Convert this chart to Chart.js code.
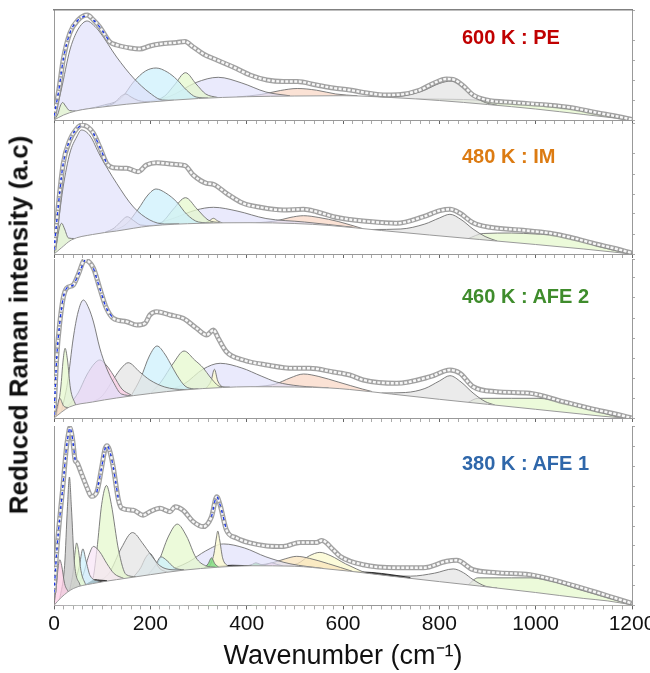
<!DOCTYPE html>
<html>
<head>
<meta charset="utf-8">
<script src="https://cdn.jsdelivr.net/npm/chart.js@4.4.1/dist/chart.umd.min.js"></script>
<style>
  body { margin: 0; background: #fff; }
  #wrap { position: relative; width: 650px; height: 673px; overflow: hidden; font-family: 'Liberation Sans', Arial, sans-serif; }
  canvas { position: absolute; left: 0; }
  .tag { position: absolute; left: 462px; font-size: 20px; font-weight: bold; line-height: 20px; white-space: nowrap; }
  #ylab { position: absolute; left: 19px; top: 325px; font-size: 26px; font-weight: bold; color: #111; white-space: nowrap;
          transform: translate(-50%, -50%) rotate(-90deg); }
</style>
</head>
<body>
<div id="wrap">
  <canvas id="c1" width="650" height="126" style="top:0px"></canvas>
  <canvas id="c2" width="650" height="140" style="top:120px"></canvas>
  <canvas id="c3" width="650" height="170" style="top:254px"></canvas>
  <canvas id="c4" width="650" height="255" style="top:418px"></canvas>
  <div id="ylab">Reduced Raman intensity (a.c)</div>
  <div class="tag" style="top:27px;color:#c00000">600 K : PE</div>
  <div class="tag" style="top:146px;color:#dc7b12">480 K : IM</div>
  <div class="tag" style="top:286px;color:#3f8c2c">460 K : AFE 2</div>
  <div class="tag" style="top:453px;color:#2f67aa">380 K : AFE 1</div>
</div>
<script>
Chart.defaults.font.family = "'Liberation Sans', Arial, sans-serif";
Chart.defaults.animation = false;

// x axis
const xMin = 0, xMax = 1200;
const xTickStep = 20, xLabelStep = 200;

// ---------- 600 K : PE ----------
const p1Spectrum = [[0,4],[10,30],[19,60],[33,87],[50,100],[69,105],[82,100],[95,93],[116,78],[130,75],[158,72],[178,71],[199,74],[220,76],[255,77.5],[272,78.5],[289,73],[310,66],[338,60],[372,53],[407,45],[442,40],[476,38.5],[505,38.5],[545,35],[580,32],[614,30],[650,27],[690,25],[720,25.5],[760,30],[787,36.5],[815,41],[829,40.5],[850,34],[870,25],[898,20],[953,17.5],[1023,15],[1071,12.5],[1127,7.3],[1170,3.5],[1200,0.5]];
const p1Base = [[0,0],[20,5],[45,9],[100,13],[200,18],[300,21.5],[400,23.3],[500,24],[600,24.3],[700,22.5],[800,19.5],[900,15.5],[1000,11],[1100,5.5],[1200,0]];
const p1PeakA = [[0,0],[8,6],[13,14],[18,17.5],[24,14],[32,9.5],[45,9]];
const p1PeakB = [[0,0],[15,30],[33,70],[47,88],[60,97],[69,99],[82,95],[95,88],[130,63],[165,42],[199,27],[225,20],[250,19.7]];
const p1PeakC = [[105,13.5],[125,17],[140,24],[149,26],[160,23],[175,19.5],[200,18]];
const p1PeakD = [[40,8.5],[100,14.5],[140,22],[165,38],[190,49],[212,52],[235,48],[255,40.5],[275,30],[295,23],[320,22]];
const p1PeakE = [[200,18.2],[230,24],[250,35],[273,47.3],[295,36],[315,26],[340,22.5]];
const p1PeakF = [[170,16.8],[240,23.5],[295,37.5],[341,42.7],[390,37],[440,28],[490,24.2]];
const p1PeakG = [[380,23],[430,25.5],[470,29.5],[505,31.5],[545,29.8],[585,26],[630,24.2]];
const p1PeakH = [[680,23],[730,24.5],[770,30],[800,36.5],[825,39],[848,33.5],[870,24.5],[895,17.5],[920,14.8]];
const p1PeakI = [[750,21],[850,20.5],[950,17.5],[1050,12.5],[1120,7.5],[1165,3.5],[1200,0]];
const p1FitRanges = [[0,69],[82,116]];

// ---------- 480 K : IM ----------
const p2Spectrum = [[0,4],[6,34],[19,90],[33,114],[45,124],[57,129],[70,127],[82,120.7],[95,107],[109,91],[123,86.3],[151,85.7],[175,82.3],[192,89],[213,91.3],[248,89.7],[272,88.3],[289,79],[317,70.7],[331,69.7],[358,60.7],[393,50.7],[428,46.7],[476,44],[518,44.7],[545,42.3],[580,37.3],[614,34.5],[642,33],[711,30.7],[767,37.3],[801,43.3],[822,44.7],[843,40.7],[870,31.3],[905,26.7],[967,24],[1030,20.7],[1071,16.7],[1127,9.7],[1160,6],[1200,1]];
const p2Base = [[0,0],[15,6],[36,14],[80,19.5],[130,23],[199,28],[303,30.7],[407,31.3],[500,30.5],[573,28.5],[680,23.5],[780,19],[884,14.5],[1000,9.5],[1100,5],[1200,0]];
const p2PeakA = [[0,0],[6,12],[11,26],[16,30.7],[22,25],[30,16],[42,15.5]];
const p2PeakB = [[0,0],[10,35],[19,67],[33,101],[47,117],[57,124],[75,118],[95,99],[130,70.7],[165,47],[199,34],[230,30],[260,30.2]];
const p2PeakC = [[105,21.5],[125,26],[140,33],[152,37.3],[165,33.5],[180,29],[205,28.3]];
const p2PeakD = [[60,17.2],[110,22],[150,30],[175,45],[195,59],[212,65],[232,61],[255,52],[275,40],[300,32],[330,31]];
const p2PeakE = [[195,27.8],[225,32],[248,45],[273,56.3],[297,45],[320,34],[345,31.2]];
const p2PeakF = [[200,28],[250,36],[295,44],[331,46.7],[380,43],[440,35.5],[520,32],[620,26.8]];
const p2PeakG = [[312,30.8],[322,33],[331,35.7],[340,33],[350,31]];
const p2PeakH = [[420,31.2],[460,33],[490,36.5],[518,38.3],[550,36.5],[590,32.5],[640,25.5]];
const p2PeakI = [[660,24.5],[720,25],[770,30],[800,36],[822,39.7],[845,34.5],[870,25],[895,17.5],[920,13]];
const p2PeakJ = [[860,15.5],[891,20.5],[950,21],[1000,20],[1040,19],[1080,15],[1120,9],[1160,4],[1200,0]];
const p2FitRanges = [[0,57],[82,110]];

// ---------- 460 K : AFE 2 ----------
const p3Spectrum = [[0,3],[6,63],[12,95],[19,119.7],[26,129.7],[40,133],[50,143],[64,158],[82,149.7],[95,129.7],[109,109.7],[123,99.7],[151,96.3],[172,93],[189,94.7],[199,103],[213,106.3],[241,103],[268,99.7],[296,89.7],[317,83],[331,88],[341,79.7],[358,66.3],[393,58],[442,53],[497,49.7],[531,49.7],[580,46],[614,43],[642,38],[711,34.7],[781,41.3],[822,48],[843,44.7],[870,31.3],[919,26.3],[988,24.7],[1057,16.3],[1127,8],[1170,3.5],[1200,0]];
const p3Base = [[0,0],[32,11],[80,16],[130,20],[200,24.5],[268,28],[350,30.5],[407,31.3],[500,31],[573,30],[614,28.5],[700,24],[800,18.7],[900,13.7],[1000,8.7],[1100,3.7],[1175,0.3],[1200,0]];
const p3PeakA = [[0,0],[5,8],[12,19.7],[20,12],[30,10.3]];
const p3PeakB = [[5,2],[14,30],[19,58],[23,69.7],[28,58],[34,30],[45,13]];
const p3PeakC = [[15,5.5],[28,35],[40,80],[50,106],[61,118],[72,110],[82,96],[95,70],[109,50],[123,36],[140,24],[165,22.3]];
const p3PeakD = [[20,7],[50,25],[68,43],[85,55],[95,58],[110,52],[123,43],[141,29],[160,23]];
const p3PeakE = [[80,16],[100,22],[125,40],[140,50],[154,55.3],[178,46],[199,38],[230,31],[270,28.5],[300,29.3]];
const p3PeakF = [[160,22],[180,40],[198,62],[214,72],[230,64],[241,55],[255,43],[272,32],[290,28.8]];
const p3PeakG = [[200,24.5],[222,36],[248,55],[270,67],[292,58],[310,50],[324,41],[345,31.5],[365,30.9]];
const p3PeakH = [[225,26],[270,34],[310,49],[345,54.7],[390,50],[430,42],[462,36],[510,32],[570,30.2]];
const p3PeakI = [[316,29.7],[326,37],[333,48.7],[340,37],[350,30.5]];
const p3PeakJ = [[420,31.3],[460,34],[490,40],[518,44],[550,41.5],[590,36],[640,29],[660,26.5]];
const p3PeakK = [[680,25],[730,25.5],[770,29.5],[800,37],[822,42.3],[845,36],[870,25],[895,16.5],[915,13]];
const p3PeakL = [[860,15.7],[880,19.7],[950,19.7],[1005,19.7],[1060,15],[1100,10],[1140,5],[1175,0.3]];
const p3FitRanges = [[0,64],[82,123]];

// ---------- 380 K : AFE 1 ----------
const p4Spectrum = [[0,13],[6,56],[19,123],[26,160],[30,173],[33,179.5],[36,175],[39,166],[44,146],[47,144.5],[57,133],[68,119.5],[78,110],[89,114.5],[99,139.5],[106,158],[110,161],[115,157],[123,139.5],[134,106],[141,98],[165,96],[185,91],[199,94.5],[220,98],[241,94.5],[251,99.5],[268,96],[289,84.5],[310,79.5],[327,89.5],[338,109.5],[345,101],[358,76],[379,68],[407,63],[442,60],[476,59.5],[511,63.5],[545,63.5],[556,65.5],[580,56],[594,49.5],[642,41],[711,38],[767,38],[815,44.5],[836,45.5],[870,36],[919,33],[988,31],[1057,23],[1127,13],[1170,6.5],[1200,2]];
const p4Base = [[0,0],[15,8],[40,17],[80,22],[130,26],[200,31],[268,35.5],[340,38.5],[407,40],[500,39.5],[573,36.5],[614,34.5],[700,29.5],[800,24],[884,19.5],[1000,13],[1100,7],[1150,4.5],[1200,0.5]];
const p4PeakA = [[0,0],[5,20],[9,40],[12,46],[16,40],[22,22],[30,13.5]];
const p4PeakB = [[12,6.5],[22,40],[28,100],[32,129.5],[36,100],[42,45],[55,19]];
const p4PeakC = [[32,14],[40,35],[44,55],[47,63],[51,55],[56,35],[66,20.5]];
const p4PeakD = [[20,10],[40,20],[52,38],[60,57],[66,46],[75,30],[95,24]];
const p4PeakE = [[60,19.5],[75,23.5],[85,26],[95,25.5],[110,25]];
const p4PeakF = [[45,17.8],[60,30],[72,50],[82,59.5],[95,54],[110,42],[125,32],[145,27.2]];
const p4PeakG = [[65,20.8],[80,26],[89,56],[99,102],[109,121],[119,102],[134,56],[150,31],[170,29]];
const p4PeakH = [[90,23],[115,33],[140,58],[163,73.5],[185,62],[199,52.5],[220,40],[245,36],[270,35.7]];
const p4PeakI = [[165,28.6],[180,38],[190,48],[199,52.5],[208,47],[218,38],[235,33.5]];
const p4PeakJ = [[195,30.7],[210,40],[222,49],[235,45],[250,38],[270,35.7]];
const p4PeakK = [[195,30.6],[215,42],[238,70],[256,82],[275,70],[295,48],[315,40],[335,38.5]];
const p4PeakL = [[230,33.5],[280,44],[315,55],[352,62],[395,58],[440,49],[490,42],[560,37.2]];
const p4PeakM = [[312,37.8],[320,42],[327,48],[334,42],[342,38.6]];
const p4PeakN = [[322,38],[332,52],[337,68],[340,75],[344,66],[350,48],[362,39]];
const p4PeakO = [[400,39.8],[412,41.5],[419,43],[428,41.5],[440,40]];
const p4PeakP = [[430,40],[442,41.5],[452,43],[462,41.5],[475,39.9]];
const p4PeakQ = [[410,40],[450,42.5],[480,47],[504,49.5],[530,47.5],[570,42],[620,34.3]];
const p4PeakR = [[470,39.7],[505,42],[530,50],[552,53.5],[575,50],[605,42],[650,32]];
const p4PeakS = [[690,30],[740,29.5],[790,32.5],[829,36.8],[850,33],[870,26],[895,19.5],[920,17.5]];
const p4PeakT = [[860,20.8],[880,27.8],[950,27.8],[990,27.8],[1040,23.5],[1090,16],[1140,9],[1200,0.5]];
const p4PeakU = [[320,37.8],[345,39.6],[370,40.5],[395,40.2],[410,40]];
const p4PeakV = [[620,34.2],[660,33.2],[700,31],[740,28]];
const p4FitRanges = [[0,44],[89,134],[327,358]];

// fill colours of the fitted components
const fills = {
  lav: 'rgba(222,222,250,0.65)',
  cyan: 'rgba(205,240,252,0.75)',
  green: 'rgba(230,248,205,0.75)',
  grey: 'rgba(226,226,226,0.7)',
  dgrey: 'rgba(205,205,205,0.85)',
  peach: 'rgba(250,214,195,0.7)',
  pink: 'rgba(252,205,230,0.75)',
  plav: 'rgba(248,228,246,0.7)',
  yellow: 'rgba(252,250,212,0.85)',
  bisque: 'rgba(250,228,188,0.75)',
  lime: 'rgba(130,220,130,0.85)',
  black: 'rgba(35,35,35,0.9)'
};

const pts = a => a.map(p => ({ x: p[0], y: p[1] }));

function panel(id, o) {
  const ds = [];
  // measured spectrum: grey tube of open circles
  ds.push({ data: pts(o.spectrum), borderColor: 'rgba(145,145,145,0.85)', borderWidth: 5, order: 3 });
  ds.push({ data: pts(o.spectrum), borderColor: '#f7f7f7', borderWidth: 2.4, borderDash: [3, 1.5], order: 2 });
  // fit (blue dashed) where the points are sparse
  o.fit.forEach(r => ds.push({
    data: pts(o.spectrum.filter(p => p[0] >= r[0] && p[0] <= r[1])),
    borderColor: '#1b36e8', borderWidth: 1.3, borderDash: [3, 4], order: 1
  }));
  // background, hides everything below it
  ds.push({ data: pts(o.base), borderColor: '#9a9a9a', borderWidth: 1, fill: 'origin', backgroundColor: '#fff', order: 4 });
  o.peaks.forEach((pk, i) => ds.push({
    data: pts(pk.d), borderColor: pk.c === 'black' ? '#222' : '#707070', borderWidth: 0.9,
    fill: 'origin', backgroundColor: fills[pk.c], order: 5 + i
  }));
  ds.forEach(d => { d.pointRadius = 0; d.cubicInterpolationMode = 'monotone'; d.borderJoinStyle = 'round'; if (!d.fill) d.fill = false; });

  const scales = {
    x: {
      type: 'linear', min: xMin, max: xMax, z: 1,
      ticks: {
        display: !!o.bottom, stepSize: xTickStep, autoSkip: false, maxRotation: 0, padding: 2,
        color: '#111', font: { size: 21 },
        callback: v => (v % xLabelStep === 0 ? v : '')
      },
      grid: {
        display: true, drawOnChartArea: false, drawTicks: true, tickLength: 4,
        color: c => (c.tick && c.tick.value % xLabelStep === 0 ? '#666' : '#aaa')
      },
      border: { display: true, color: '#999', width: 1 },
      title: { display: !!o.bottom, text: 'Wavenumber (cm⁻¹)', color: '#111', font: { size: 27 }, padding: { top: 2, bottom: 0 } },
      afterFit: s => { s.paddingLeft = 0; s.paddingRight = 0; }
    },
    y: {
      min: 0, max: o.max,
      ticks: { display: false }, grid: { display: false, drawTicks: false },
      border: { display: true, color: '#999', width: 1 }
    },
    yr: {
      position: 'right', min: 0, max: o.max,
      ticks: { display: false, stepSize: 20 },
      grid: { display: true, drawOnChartArea: false, drawTicks: true, tickLength: 3, color: '#aaa' },
      border: { display: true, color: '#999', width: 1 }
    }
  };
  if (o.top) {
    scales.xt = {
      type: 'linear', position: 'top', min: xMin, max: xMax,
      ticks: { display: false }, grid: { display: false, drawTicks: false },
      border: { display: true, color: '#808080', width: 1.5 }
    };
  }

  new Chart(document.getElementById(id), {
    type: 'line',
    data: { datasets: ds },
    options: {
      responsive: false,
      layout: { padding: { left: 54, right: 15, top: o.padTop, bottom: o.padBottom } },
      plugins: { legend: { display: false }, tooltip: { enabled: false } },
      scales: scales
    }
  });
}

panel('c1', {
  max: 110, padTop: 10, padBottom: 2, top: true,
  spectrum: p1Spectrum, base: p1Base, fit: p1FitRanges,
  peaks: [
    { d: p1PeakA, c: 'green' }, { d: p1PeakB, c: 'lav' }, { d: p1PeakC, c: 'grey' },
    { d: p1PeakD, c: 'cyan' }, { d: p1PeakE, c: 'green' }, { d: p1PeakF, c: 'lav' },
    { d: p1PeakG, c: 'peach' }, { d: p1PeakH, c: 'grey' }, { d: p1PeakI, c: 'green' }
  ]
});

panel('c2', {
  max: 131, padTop: 3, padBottom: 2,
  spectrum: p2Spectrum, base: p2Base, fit: p2FitRanges,
  peaks: [
    { d: p2PeakA, c: 'green' }, { d: p2PeakB, c: 'lav' }, { d: p2PeakC, c: 'grey' },
    { d: p2PeakD, c: 'cyan' }, { d: p2PeakE, c: 'green' }, { d: p2PeakG, c: 'yellow' },
    { d: p2PeakF, c: 'lav' }, { d: p2PeakH, c: 'peach' }, { d: p2PeakI, c: 'grey' },
    { d: p2PeakJ, c: 'green' }
  ]
});

panel('c3', {
  max: 159, padTop: 5, padBottom: 2,
  spectrum: p3Spectrum, base: p3Base, fit: p3FitRanges,
  peaks: [
    { d: p3PeakA, c: 'peach' }, { d: p3PeakB, c: 'green' }, { d: p3PeakC, c: 'lav' },
    { d: p3PeakD, c: 'pink' }, { d: p3PeakE, c: 'grey' }, { d: p3PeakF, c: 'cyan' },
    { d: p3PeakG, c: 'green' }, { d: p3PeakI, c: 'yellow' }, { d: p3PeakH, c: 'lav' },
    { d: p3PeakJ, c: 'peach' }, { d: p3PeakK, c: 'grey' }, { d: p3PeakL, c: 'green' }
  ]
});

panel('c4', {
  max: 181, padTop: 8, padBottom: 0, bottom: true,
  spectrum: p4Spectrum, base: p4Base, fit: p4FitRanges,
  peaks: [
    { d: p4PeakA, c: 'pink' }, { d: p4PeakB, c: 'dgrey' }, { d: p4PeakC, c: 'green' },
    { d: p4PeakD, c: 'cyan' }, { d: p4PeakE, c: 'black' }, { d: p4PeakF, c: 'plav' },
    { d: p4PeakG, c: 'green' }, { d: p4PeakH, c: 'grey' }, { d: p4PeakI, c: 'cyan' },
    { d: p4PeakJ, c: 'cyan' }, { d: p4PeakK, c: 'green' }, { d: p4PeakM, c: 'lime' },
    { d: p4PeakN, c: 'yellow' }, { d: p4PeakU, c: 'black' }, { d: p4PeakL, c: 'lav' },
    { d: p4PeakO, c: 'lime' }, { d: p4PeakP, c: 'pink' }, { d: p4PeakQ, c: 'bisque' },
    { d: p4PeakR, c: 'yellow' }, { d: p4PeakV, c: 'black' }, { d: p4PeakS, c: 'grey' },
    { d: p4PeakT, c: 'green' }
  ]
});
</script>
</body>
</html>
